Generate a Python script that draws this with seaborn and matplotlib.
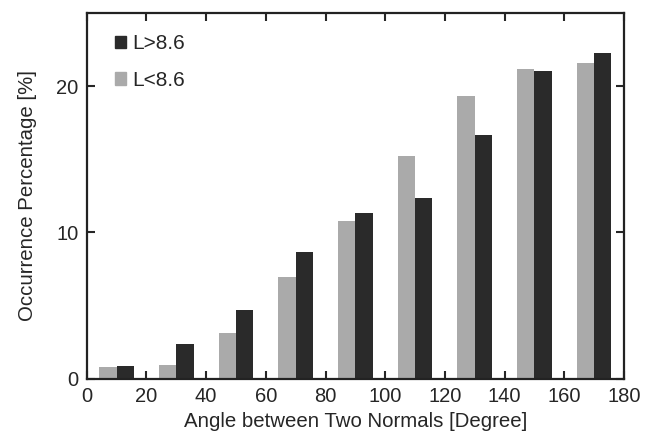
import pandas as pd
import matplotlib
matplotlib.use("Agg")
import matplotlib.pyplot as plt
import matplotlib.patches as mpatches
import seaborn as sns

# bin centres of the angle histogram [degree]
angles = [10, 30, 50, 70, 90, 110, 130, 150, 170]
low_L = [0.80, 0.94, 3.14, 6.95, 10.78, 15.2, 19.3, 21.2, 21.56]    # L<8.6
high_L = [0.87, 2.35, 4.67, 8.66, 11.33, 12.33, 16.68, 21.03, 22.24]  # L>8.6
groups = ["L<8.6", "L>8.6"]
colors = {"L<8.6": "#aaaaaa", "L>8.6": "#2a2a2a"}

df = pd.DataFrame({
    "angle": angles * 2,
    "pct": low_L + high_L,
    "L": [groups[0]] * len(angles) + [groups[1]] * len(angles),
})

sns.set_style("ticks")
plt.rcParams["font.family"] = ["Liberation Sans", "DejaVu Sans"]

fig = plt.figure(figsize=(6.47, 4.37), dpi=100)
ax = fig.add_axes([0.134, 0.1334, 0.8305, 0.8366])

sns.barplot(data=df, x="angle", y="pct", hue="L", hue_order=groups,
            palette=colors, native_scale=True, width=0.58, ax=ax,
            saturation=1, linewidth=0, legend=False)

ax.set_xlim(0, 180)
ax.set_ylim(0, 25)
ax.set_xticks(range(0, 181, 20))
ax.set_yticks([0, 10, 20])
ax.tick_params(direction="in", length=6, width=1.5, labelsize=14.5,
               top=True, right=True, pad=6)
for s in ax.spines.values():
    s.set_linewidth(1.6)
    s.set_color("#222222")

ax.set_xlabel("Angle between Two Normals [Degree]", fontsize=14.7, labelpad=4)
ax.set_ylabel("Occurrence Percentage [%]", fontsize=14.7, labelpad=14)

handles = [mpatches.Patch(color=colors["L>8.6"], label="L>8.6"),
           mpatches.Patch(color=colors["L<8.6"], label="L<8.6")]
ax.legend(handles=handles, loc="upper left", frameon=False, fontsize=15,
          handlelength=0.55, handleheight=0.55, handletextpad=0.3,
          labelspacing=0.85, borderaxespad=0,
          bbox_to_anchor=(0.037, 0.965))

fig.savefig("out.png", dpi=100)
